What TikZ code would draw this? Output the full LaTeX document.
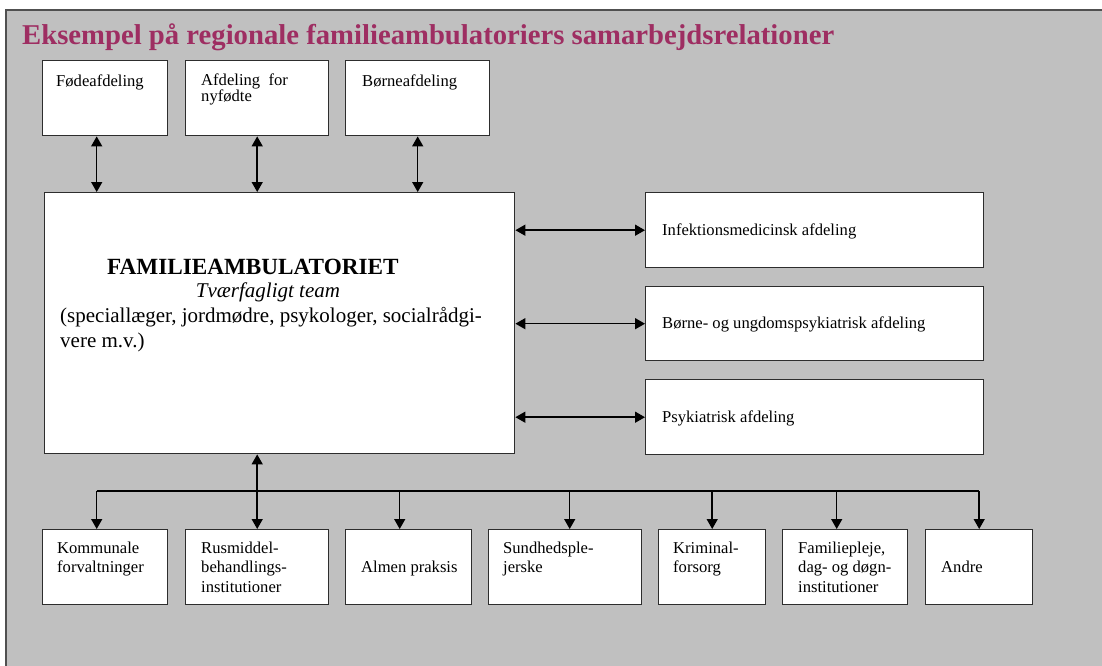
\documentclass[tikz,border=0pt]{standalone}
\usepackage{fontspec}
\setmainfont{Liberation Serif}
\usetikzlibrary{arrows.meta}
\definecolor{bggray}{RGB}{192,192,192}
\definecolor{titlered}{RGB}{158,46,98}
\definecolor{frameline}{RGB}{80,80,80}
\definecolor{boxline}{RGB}{45,45,45}
\begin{document}
\begin{tikzpicture}[x=1pt,y=-1pt,
box/.style={draw=boxline,fill=white,line width=1.4pt,anchor=north west,inner sep=0pt,minimum height=75pt},
txt/.style={anchor=base west,inner sep=0pt,align=left,font=\fontsize{16.6}{19.5}\selectfont},
conn/.style={line width=1.5pt},
tip/.style={conn,-{Triangle[width=11pt,length=10pt]}},
both/.style={conn,{Triangle[width=11pt,length=10pt]}-{Triangle[width=11pt,length=10pt]}}]
\useasboundingbox (0,0) rectangle (1102,666);
\fill[bggray] (6,10) rectangle (1102,666);
\draw[frameline,line width=2pt] (6,666) -- (6,10) -- (1102,10);
\node[anchor=base west,inner sep=0pt,text=titlered,font=\fontsize{28.7}{32}\selectfont\bfseries] (head) at (22,45) {Eksempel på regionale familieambulatoriers samarbejdsrelationer};
% hospital departments on top
\node[box,minimum width=125pt] (fode) at (42,60) {};
\node[box,minimum width=143pt] (nyf) at (185,60) {};
\node[box,minimum width=144pt] (born) at (345,60) {};
\node[txt] (fode-t) at (56,87) {Fødeafdeling};
\node[txt,font=\fontsize{16.6}{15}\selectfont] (nyf-t) at (201,102) {Afdeling\ \ for\\nyfødte};
\node[txt] (born-t) at (362,87) {Børneafdeling};
% the team
\node[box,minimum width=470pt,minimum height=261pt] (main) at (44,192) {};
\node[anchor=base west,inner sep=0pt,font=\fontsize{23.2}{26}\selectfont\bfseries] (main-name) at (107,274) {FAMILIEAMBULATORIET};
\node[anchor=base,inner sep=0pt,font=\fontsize{21}{25}\selectfont\itshape] (main-team) at (268,297) {Tværfagligt team};
\node[anchor=base west,inner sep=0pt,align=left,font=\fontsize{21}{25}\selectfont] (main-staff) at (60,347) {(speciallæger, jordmødre, psykologer, socialrådgi-\\vere m.v.)};
% departments on the right
\node[box,minimum width=338pt] (infek) at (645,192) {};
\node[box,minimum width=338pt,minimum height=74pt] (bup) at (645,286) {};
\node[box,minimum width=338pt] (psyk) at (645,379) {};
\node[txt] (infek-t) at (662,235) {Infektionsmedicinsk afdeling};
\node[txt] (bup-t) at (662,328) {Børne- og ungdomspsykiatrisk afdeling};
\node[txt] (psyk-t) at (662,422) {Psykiatrisk afdeling};
% partners below
\node[box,minimum width=125pt] (kom) at (42,529) {};
\node[box,minimum width=143pt] (rus) at (185,529) {};
\node[box,minimum width=126pt] (almen) at (345,529) {};
\node[box,minimum width=153pt] (sund) at (488,529) {};
\node[box,minimum width=107pt] (krim) at (658,529) {};
\node[box,minimum width=125pt] (fam) at (782,529) {};
\node[box,minimum width=107pt] (andre) at (925,529) {};
\node[txt] (kom-t) at (57,572.5) {Kommunale\\forvaltninger};
\node[txt] (rus-t) at (201,592) {Rusmiddel-\\behandlings-\\institutioner};
\node[txt] (almen-t) at (361,572) {Almen praksis};
\node[txt] (sund-t) at (503,572.5) {Sundhedsple-\\jerske};
\node[txt] (krim-t) at (673,572.5) {Kriminal-\\forsorg};
\node[txt] (fam-t) at (798,592) {Familiepleje,\\dag- og døgn-\\institutioner};
\node[txt] (andre-t) at (941,572) {Andre};
\coordinate (bus) at (0,491);
\draw[both] ([xshift=-8.5pt]fode.south) -- ([xshift=-8.5pt]fode.south |- main.north);
\draw[both] (nyf.south) -- (nyf.south |- main.north);
\draw[both] (born.south) -- (born.south |- main.north);
\draw[both] (main.east |- infek.west) -- (infek.west);
\draw[both] (main.east |- bup.west) -- (bup.west);
\draw[both] (main.east |- psyk.west) -- (psyk.west);
\draw[conn] ([xshift=-8.5pt]kom.north |- bus) -- (andre.north |- bus);
\draw[both] (main.south -| rus.north) -- (rus.north);
\draw[tip] ([xshift=-8.5pt]kom.north |- bus) -- ([xshift=-8.5pt]kom.north);
\draw[tip] ([xshift=-9pt]almen.north |- bus) -- ([xshift=-9pt]almen.north);
\draw[tip] ([xshift=4.5pt]sund.north |- bus) -- ([xshift=4.5pt]sund.north);
\draw[tip] (krim.north |- bus) -- (krim.north);
\draw[tip] ([xshift=-8.5pt]fam.north |- bus) -- ([xshift=-8.5pt]fam.north);
\draw[tip] (andre.north |- bus) -- (andre.north);
\end{tikzpicture}
\end{document}
